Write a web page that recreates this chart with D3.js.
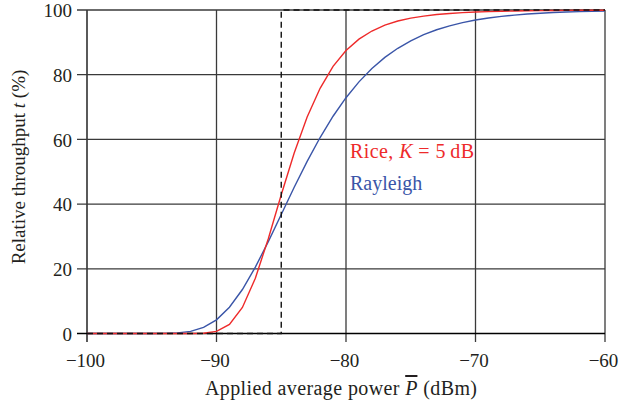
<!DOCTYPE html>
<html><head><meta charset="utf-8">
<script src="https://cdn.jsdelivr.net/npm/d3@7"></script>
<style>
body{margin:0;background:#fff;}
text{font-family:"Liberation Serif","Times New Roman",serif;fill:#231f20;}
</style></head>
<body><svg id="c" width="620" height="410"></svg>
<script>
const powerDbm = [-100,-99,-98,-97,-96,-95,-94,-93,-92,-91,-90,-89,-88,-87,-86,-85,-84,-83,-82,-81,-80,-79,-78,-77,-76,-75,-74,-73,-72,-71,-70,-69,-68,-67,-66,-65,-64,-63,-62,-61,-60];
const riceK5 = [0,0,0,0,0,0,0,0,0,0.1,0.67,2.8,8.05,17.1,29.3,42.9,55.8,66.9,75.8,82.6,87.5,91.0,93.5,95.3,96.6,97.5,98.1,98.6,98.9,99.2,99.36,99.5,99.6,99.7,99.77,99.82,99.86,99.89,99.91,99.93,99.94];
const rayleigh = [0,0,0,0,0,0,0.04,0.18,0.67,1.87,4.23,8.11,13.6,20.5,28.4,36.79,45.19,53.21,60.58,67.16,72.89,77.79,81.91,85.34,88.17,90.48,92.36,93.89,95.11,96.1,96.89,97.52,98.02,98.43,98.75,99.0,99.21,99.37,99.5,99.6,99.68];
const idealX = [-100,-85,-85,-60];
const idealY = [0,0,100,100];
const xTicks = [-100,-90,-80,-70,-60];
const yTicks = [0,20,40,60,80,100];
const seriesNames = ["Rice, K = 5 dB","Rayleigh"];

const svg = d3.select("#c");
const x = d3.scaleLinear().domain([-100,-60]).range([87,605]);
const y = d3.scaleLinear().domain([0,100]).range([333.5,10]);
const fmt = d => (d<0 ? "\u2212"+Math.abs(d) : String(d));

// grid
const g = svg.append("g");
g.selectAll("line.v").data(xTicks).join("line")
  .attr("x1",d=>x(d)).attr("x2",d=>x(d)).attr("y1",y(100)).attr("y2",y(0)+8.5)
  .attr("stroke",d=>d===-100?"#000":"#3a3a3a").attr("stroke-width",1.3);
g.selectAll("line.h").data(yTicks).join("line")
  .attr("y1",d=>y(d)).attr("y2",d=>y(d)).attr("x1",x(-100)-10).attr("x2",x(-60))
  .attr("stroke",d=>d===0?"#000":"#3a3a3a").attr("stroke-width",1.3);

// axes labels
const xAxis = d3.axisBottom(x).tickValues(xTicks).tickSize(0).tickPadding(0).tickFormat(fmt);
const xa = svg.append("g").attr("transform",`translate(0,${y(0)})`).call(xAxis);
xa.select(".domain").remove();
xa.selectAll("text").attr("dy",null).attr("y",33.5).attr("font-size",19).attr("text-anchor","middle")
  .attr("font-family","Liberation Serif").attr("fill","#231f20")
  .attr("dx",-2);
const yAxis = d3.axisLeft(y).tickValues(yTicks).tickSize(0).tickPadding(0).tickFormat(fmt);
const ya = svg.append("g").attr("transform",`translate(${x(-100)},0)`).call(yAxis);
ya.select(".domain").remove();
ya.selectAll("text").attr("x",-15).attr("dy","0.36em").attr("font-size",19)
  .attr("font-family","Liberation Serif").attr("fill","#231f20");

// curves
const line = d3.line().x((d,i)=>x(powerDbm[i])).y(d=>y(d));
svg.append("path").attr("d",line(rayleigh)).attr("fill","none").attr("stroke","#3a55a8").attr("stroke-width",1.4);
svg.append("path").attr("d",line(riceK5)).attr("fill","none").attr("stroke","#ee2a2a").attr("stroke-width",1.4);
const lineI = d3.line().x((d,i)=>x(idealX[i])).y(d=>y(d));
svg.append("path").attr("d",lineI(idealY)).attr("fill","none").attr("stroke","#111").attr("stroke-width",1.4).attr("stroke-dasharray","6,4");

// legend labels
const t1 = svg.append("text").attr("x",350).attr("y",158).attr("font-size",20).style("fill","#ee2a2a")
  .attr("textLength",124).attr("lengthAdjust","spacing");
t1.append("tspan").text("Rice, ");
t1.append("tspan").attr("font-style","italic").text("K");
t1.append("tspan").text(" = 5\u2009dB");
svg.append("text").attr("x",350).attr("y",190).attr("font-size",20).style("fill","#3a55a8").text(seriesNames[1]);

// axis titles
const xt = svg.append("text").attr("x",341).attr("y",395).attr("text-anchor","middle").attr("font-size",20)
  .attr("textLength",272).attr("lengthAdjust","spacing");
xt.append("tspan").text("Applied average power ");
xt.append("tspan").attr("font-style","italic").style("text-decoration","overline").text("P");
xt.append("tspan").text(" (dBm)");
const yt = svg.append("text").attr("transform","translate(25,167) rotate(-90)").attr("text-anchor","start").attr("font-size",19);
yt.append("tspan").text("Relative throughput ");
yt.append("tspan").attr("font-style","italic").text("t");
yt.append("tspan").text(" (%)");
const ytLen = yt.node().getComputedTextLength();
yt.attr("x",-ytLen/2);
</script></body></html>
